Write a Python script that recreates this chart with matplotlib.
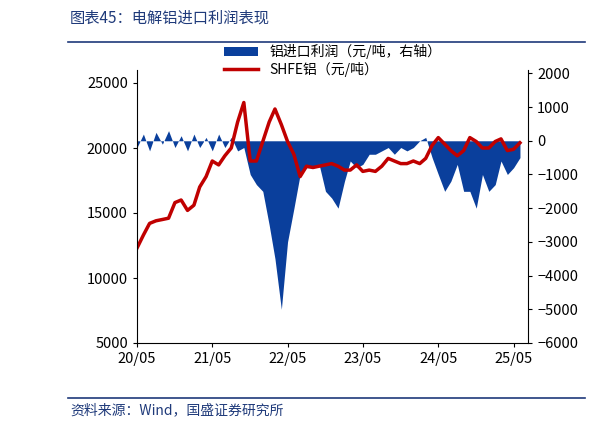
import matplotlib
matplotlib.use("Agg")
import matplotlib.pyplot as plt
import pandas as pd
import numpy as np

plt.rcParams['font.family'] = ['Noto Sans CJK SC', 'DejaVu Sans']

months = pd.date_range("2020-05-01", "2025-06-01", freq="MS")
price = [12300,13300,14200,14400,14500,14600,15800,16000,15200,15600,17000,17800,
         19000,18700,19400,20000,22000,23500,19000,19000,20500,22000,23000,21800,
         20500,19500,17800,18600,18500,18600,18700,18800,18600,18300,18300,18700,
         18200,18300,18200,18600,19200,19000,18800,18800,19000,18800,19200,20200,
         20800,20300,19800,19400,19800,20800,20500,20000,20000,20500,20700,19800,
         19900,20400]
profit = [-200,200,-300,250,-100,300,-200,150,-300,200,-200,100,
          -300,200,-200,100,-300,-200,-1000,-1300,-1500,-2500,-3500,-5000,
          -3000,-2000,-1000,-800,-800,-700,-1500,-1700,-2000,-1200,-600,-800,
          -700,-400,-400,-300,-200,-400,-200,-300,-200,0,100,-500,
          -1000,-1500,-1200,-700,-1500,-1500,-2000,-1000,-1500,-1300,-600,-1000,
          -800,-500]

fig = plt.figure(figsize=(6.12, 4.29), dpi=100)
ax = fig.add_axes([137/612, 1-343/429, (528-137)/612, (343-70)/429])
ax2 = ax.twinx()
ax.set_zorder(ax2.get_zorder()+1); ax.patch.set_visible(False)

blue = '#0a3f9c'; red = '#c00000'
ax2.fill_between(months, profit, 0, color=blue, lw=0, label='铝进口利润（元/吨，右轴）')
ax.plot(months, price, color=red, lw=2.5, label='SHFE铝（元/吨）')

ax.set_ylim(5000, 26000); ax.set_yticks(range(5000, 25001, 5000))
ax2.set_ylim(-6000, 2100); ax2.set_yticks(range(-6000, 2001, 1000))
ax.set_xlim(pd.Timestamp("2020-05-01"), pd.Timestamp("2025-07-10"))
ticks = pd.to_datetime(["2020-05-01","2021-05-01","2022-05-01","2023-05-01","2024-05-01","2025-05-01"])
ax.set_xticks(ticks); ax.set_xticklabels(["20/05","21/05","22/05","23/05","24/05","25/05"])
for a in (ax, ax2):
    a.tick_params(labelsize=10.5, length=3, direction='out')
    a.spines['top'].set_visible(False)
ax.spines['right'].set_visible(False)
ax2.spines['left'].set_visible(False); ax2.spines['bottom'].set_visible(False)

h1, l1 = ax2.get_legend_handles_labels(); h2, l2 = ax.get_legend_handles_labels()
ax.legend(h1+h2, l1+l2, loc='upper center', bbox_to_anchor=(0.5, 1.14), frameon=False,
          fontsize=10, handlelength=2.5, labelspacing=0.2)

fig.text(70/612, 1-18/429, "图表45：电解铝进口利润表现", color='#1f3a7a', fontsize=11,
         style='italic', va='center')
fig.add_artist(plt.Line2D([68/612, 585/612], [1-42/429]*2, color='#1f3a7a', lw=1.2))
fig.add_artist(plt.Line2D([68/612, 585/612], [1-398/429]*2, color='#1f3a7a', lw=1.2))
fig.text(70/612, 1-410/429, "资料来源：Wind，国盛证券研究所", color='#1f3a7a', fontsize=10,
         style='italic', va='center')
fig.savefig("out.png", dpi=100)
